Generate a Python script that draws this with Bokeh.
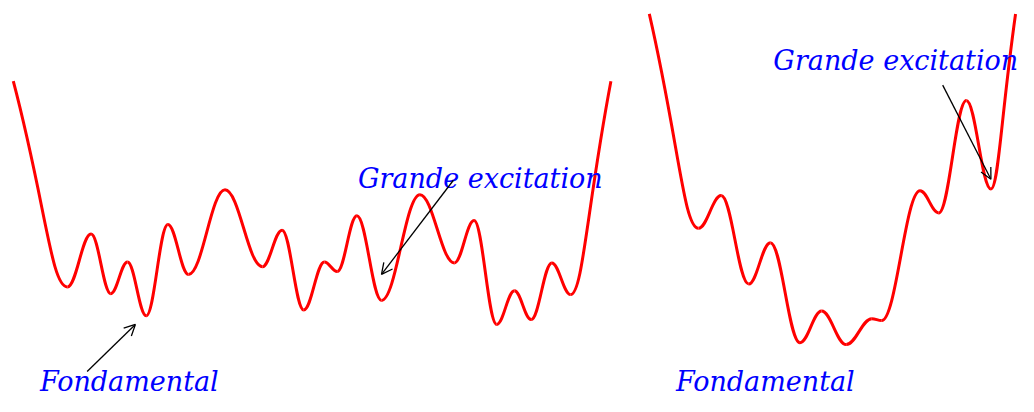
from bokeh.plotting import figure
from bokeh.models import Range1d, ColumnDataSource, Arrow, OpenHead
from bokeh.core.properties import value
from bokeh.embed import file_html
from bokeh.resources import INLINE

# ---- data: turning points of the two energy landscapes (x, energy) ----
left_x = [13, 68, 92, 112, 129, 148, 170, 191, 228, 266, 286, 308, 329, 342,
          362, 387, 426, 461, 481, 504, 522, 539, 560, 579, 620]
left_e = [328, 114, 169, 107, 140, 84, 179, 127, 215, 135, 173, 90, 140, 130,
          188, 100, 210, 139, 183, 75, 110, 80, 139, 106, 328]

right_x = [659, 709, 732, 760, 782, 812, 834, 859, 885, 895, 934, 953, 981, 1006, 1031]
right_e = [398, 175, 209, 117, 160, 56, 89, 54, 81, 79, 214, 191, 308, 216, 398]

# labels
label_text = ["Grande excitation", "Fondamental", "Grande excitation", "Fondamental"]
label_x = [363, 40, 785, 686]
label_e = [227, 16, 350, 16]

# arrows (tail -> tip)
arrow_x0 = [88, 460, 957]
arrow_e0 = [26, 225, 324]
arrow_x1 = [137, 387, 1006]
arrow_e1 = [75, 127, 226]

W, H = 1018, 396
p = figure(width=W, height=H, output_backend="svg", toolbar_location=None,
           x_range=Range1d(0, 1034), y_range=Range1d(0, 412),
           x_axis_type=None, y_axis_type=None,
           min_border=0, outline_line_color=None)
p.grid.visible = False
p.background_fill_color = "white"
p.border_fill_color = "white"


def segments(xs, es, k=0.38, wall=0.6, wall_k=0.3):
    x0, y0, x1, y1, cx0, cy0, cx1, cy1 = ([] for _ in range(8))
    n = len(xs)
    for i in range(n - 1):
        ax, ay, bx, by = xs[i], es[i], xs[i + 1], es[i + 1]
        dx = bx - ax
        if i == 0:
            c0 = (ax + wall * (bx - ax), ay + wall * (by - ay))
            c1 = (bx - wall_k * dx, by)
        elif i == n - 2:
            c0 = (ax + wall_k * dx, ay)
            c1 = (bx - wall * (bx - ax), by - wall * (by - ay))
        else:
            c0 = (ax + k * dx, ay)
            c1 = (bx - k * dx, by)
        x0.append(ax); y0.append(ay); x1.append(bx); y1.append(by)
        cx0.append(c0[0]); cy0.append(c0[1]); cx1.append(c1[0]); cy1.append(c1[1])
    return ColumnDataSource(dict(x0=x0, y0=y0, x1=x1, y1=y1,
                                 cx0=cx0, cy0=cy0, cx1=cx1, cy1=cy1))


for xs, es in ((left_x, left_e), (right_x, right_e)):
    p.bezier(x0="x0", y0="y0", x1="x1", y1="y1", cx0="cx0", cy0="cy0",
             cx1="cx1", cy1="cy1", source=segments(xs, es),
             line_color="#ff0000", line_width=3)

arrow_src = ColumnDataSource(dict(x_start=arrow_x0, y_start=arrow_e0,
                                  x_end=arrow_x1, y_end=arrow_e1))
p.add_layout(Arrow(end=OpenHead(size=11, line_width=1.3, line_color="black"),
                   x_start="x_start", y_start="y_start", x_end="x_end", y_end="y_end",
                   source=arrow_src, line_color="black", line_width=1.3))

p.text(x=label_x, y=label_e, text=label_text, text_color="#0000ff",
       text_font=value("DejaVu Serif"), text_font_style="italic",
       text_font_size="27px", text_baseline="alphabetic", text_align="left")

open("out.html", "w").write(file_html(p, INLINE))
